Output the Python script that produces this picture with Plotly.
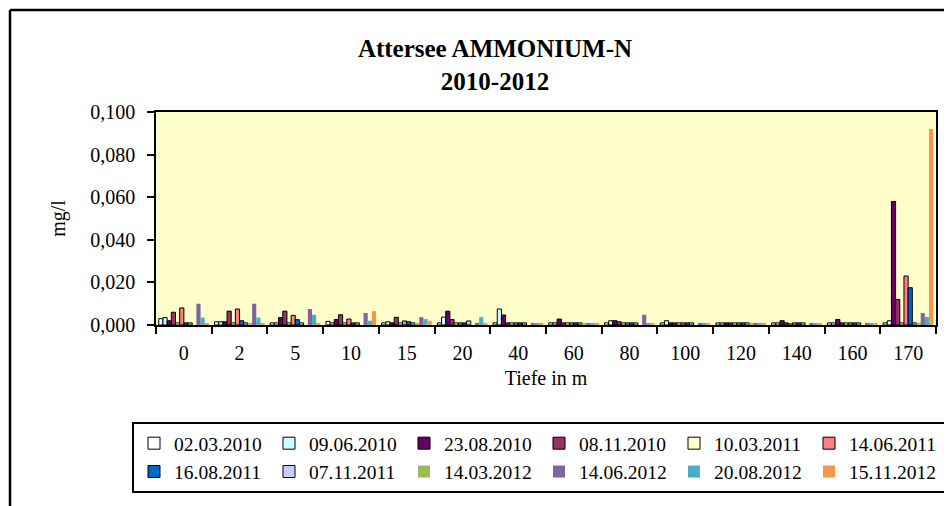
import plotly.graph_objects as go

categories = ["0", "2", "5", "10", "15", "20", "40", "60", "80", "100", "120", "140", "160", "170"]

series_names = ["02.03.2010", "09.06.2010", "23.08.2010", "08.11.2010", "10.03.2011", "14.06.2011",
                "16.08.2011", "07.11.2011", "14.03.2012", "14.06.2012", "20.08.2012", "15.11.2012"]

s_02_03_2010 = [0.003, 0.0015, 0.001, 0.0017, 0.001, 0.001, 0.001, 0.001, 0.001, 0.001, 0.001, 0.001, 0.001, 0.001]
s_09_06_2010 = [0.0035, 0.0015, 0.001, 0.001, 0.0015, 0.0037, 0.0075, 0.001, 0.002, 0.002, 0.001, 0.001, 0.001, 0.002]
s_23_08_2010 = [0.002, 0.0015, 0.0035, 0.0026, 0.001, 0.0065, 0.0047, 0.0028, 0.002, 0.001, 0.001, 0.002, 0.0026, 0.058]
s_08_11_2010 = [0.006, 0.0065, 0.0065, 0.0048, 0.0036, 0.0026, 0.001, 0.001, 0.0015, 0.001, 0.001, 0.001, 0.001, 0.012]
s_10_03_2011 = [0.001, 0.001, 0.001, 0.001, 0.001, 0.001, 0.001, 0.001, 0.001, 0.001, 0.001, 0.0005, 0.001, 0.001]
s_14_06_2011 = [0.008, 0.0075, 0.0045, 0.0028, 0.0019, 0.001, 0.001, 0.001, 0.001, 0.001, 0.001, 0.001, 0.001, 0.023]
s_16_08_2011 = [0.001, 0.002, 0.0025, 0.001, 0.0015, 0.001, 0.001, 0.001, 0.001, 0.001, 0.001, 0.001, 0.001, 0.0175]
s_07_11_2011 = [0.001, 0.001, 0.001, 0.001, 0.001, 0.0019, 0.001, 0.001, 0.001, 0.001, 0.001, 0.001, 0.001, 0.001]
s_14_03_2012 = [0, 0.001, 0, 0, 0.001, 0, 0, 0.001, 0, 0, 0.001, 0, 0, 0.001]
s_14_06_2012 = [0.010, 0.010, 0.0075, 0.0056, 0.0037, 0.001, 0.001, 0.001, 0.0048, 0.001, 0.001, 0.001, 0.001, 0.0056]
s_20_08_2012 = [0.0035, 0.0035, 0.0048, 0.002, 0.0028, 0.0037, 0.001, 0.001, 0.001, 0.001, 0.001, 0.001, 0.001, 0.0038]
s_15_11_2012 = [0.001, 0.001, 0.001, 0.0065, 0.002, 0.001, 0.001, 0.001, 0.001, 0.001, 0.001, 0.001, 0.001, 0.092]

series_values = [s_02_03_2010, s_09_06_2010, s_23_08_2010, s_08_11_2010, s_10_03_2011, s_14_06_2011,
                 s_16_08_2011, s_07_11_2011, s_14_03_2012, s_14_06_2012, s_20_08_2012, s_15_11_2012]

colors = ["#FFFFFF", "#CCFFFF", "#660066", "#993366", "#FFFFCC", "#FF8080",
          "#0066CC", "#CCCCFF", "#9BBB59", "#8064A2", "#4BACC6", "#F79646"]
outlined = [True, True, True, True, True, True, True, True, False, False, False, False]

FONT = "Liberation Serif, Times New Roman, serif"

fig = go.Figure()
for name, vals, col, ol in zip(series_names, series_values, colors, outlined):
    fig.add_trace(go.Bar(
        x=categories, y=vals, name=name,
        marker=dict(color=col, line=dict(color="black", width=1 if ol else 0)),
    ))

# the page body has an 8px margin; work in window pixels and subtract it
OFF = 8
W, H = 952 - OFF, 506 - OFF
L, R, T, B = 156 - OFF, 16, 112 - OFF, 181
pw, ph = W - L - R, H - T - B

def px_x(x):
    return (x - OFF - L) / pw

def px_y(y):
    return (H - B - (y - OFF)) / ph

fig.update_layout(
    width=W, height=H, autosize=False,
    margin=dict(l=L, r=R, t=T, b=B, pad=0),
    paper_bgcolor="white", plot_bgcolor="#FFFFCC",
    barmode="group", bargap=0.1, bargroupgap=0,
    separators=",.",
    font=dict(family=FONT, size=20, color="black"),
    title=dict(text="<b>Attersee AMMONIUM-N<br>2010-2012</b>",
               font=dict(family=FONT, size=25, color="black"),
               x=(495 - OFF) / W, xanchor="center", xref="container",
               y=1 - (57 - OFF) / H, yanchor="top", yref="container"),
    xaxis=dict(type="category", categoryorder="array", categoryarray=categories,
               showline=True, linecolor="black", linewidth=1.5, mirror=True,
               ticks="outside", tickson="boundaries", ticklen=7, tickwidth=1.5, tickcolor="black",
               ticklabelstandoff=9,
               tickfont=dict(family=FONT, size=20, color="black"),
               showgrid=False,
               title=dict(text="Tiefe in m", font=dict(family=FONT, size=20, color="black"), standoff=8)),
    yaxis=dict(range=[0, 0.1], tick0=0, dtick=0.02, tickformat=".3f",
               showline=True, linecolor="black", linewidth=1.5, mirror=True,
               ticks="outside", ticklen=7, tickwidth=1.5, tickcolor="black",
               ticklabelstandoff=8,
               tickfont=dict(family=FONT, size=20, color="black"),
               showgrid=False, zeroline=False,
               title=dict(text="mg/l", font=dict(family=FONT, size=20, color="black"), standoff=19)),
    legend=dict(orientation="h", x=px_x(132), y=px_y(422), xanchor="left", yanchor="top",
                bordercolor="black", borderwidth=2, bgcolor="white",
                entrywidth=90, entrywidthmode="pixels",
                font=dict(family=FONT, size=19.5, color="black")),
    shapes=[
        dict(type="line", xref="paper", yref="paper", x0=px_x(10), x1=px_x(990), y0=px_y(10), y1=px_y(10),
             line=dict(color="black", width=2.5)),
        dict(type="line", xref="paper", yref="paper", x0=px_x(10), x1=px_x(10), y0=px_y(10), y1=px_y(560),
             line=dict(color="black", width=2.5)),
    ],
)

fig.write_html("out.html")
